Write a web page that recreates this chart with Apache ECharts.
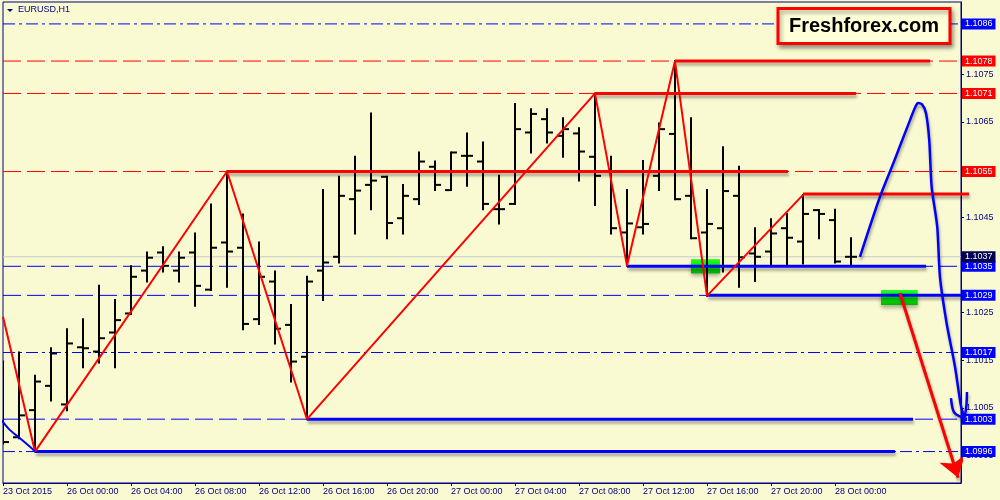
<!DOCTYPE html>
<html><head><meta charset="utf-8">
<script src="https://cdn.jsdelivr.net/npm/echarts@6/dist/echarts.min.js"></script>
<style>html,body{margin:0;padding:0;background:#FAFAD2}#c{width:1000px;height:500px}</style>
</head><body><div id="c"></div>
<script>
// EURUSD H1 bars, index 0 = 23 Oct 2015 20:00
const opens = [1.10120,1.09988,1.10045,1.10096,1.10057,1.10177,1.10168,1.10208,1.10248,1.10338,1.10376,1.10338,1.10376,1.10298,1.10397,1.10386,1.10236,1.10315,1.10224,1.10157,1.10338,1.10367,1.10488,1.10518,1.10535,1.10448,1.10488,1.10556,1.10507,1.10579,1.10567,1.10467,1.10478,1.10628,1.10656,1.10621,1.10626,1.10577,1.10547,1.10418,1.10429,1.10537,1.10625,1.10495,1.10418,1.10427,1.10495,1.10374,1.10378,1.10427,1.10399,1.10465,1.10444,1.10367];
const highs = [1.10147,1.10166,1.10117,1.10175,1.10215,1.10236,1.10306,1.10276,1.10347,1.10376,1.10387,1.10376,1.10416,1.10477,1.10546,1.10456,1.10397,1.10336,1.10266,1.10325,1.10507,1.10535,1.10577,1.10668,1.10535,1.10518,1.10586,1.10567,1.10586,1.10626,1.10607,1.10537,1.10688,1.10677,1.10677,1.10658,1.10637,1.10710,1.10577,1.10507,1.10568,1.10647,1.10778,1.10658,1.10507,1.10597,1.10556,1.10427,1.10446,1.10457,1.10497,1.10465,1.10466,1.10406];
const lows = [1.09975,1.09986,1.09958,1.10065,1.10045,1.10135,1.10145,1.10135,1.10247,1.10315,1.10336,1.10315,1.10264,1.10297,1.10304,1.10215,1.10226,1.10185,1.10105,1.10026,1.10276,1.10355,1.10416,1.10467,1.10406,1.10416,1.10478,1.10507,1.10507,1.10516,1.10467,1.10437,1.10478,1.10586,1.10607,1.10577,1.10527,1.10476,1.10416,1.10348,1.10416,1.10507,1.10488,1.10406,1.10285,1.10336,1.10304,1.10316,1.10348,1.10348,1.10353,1.10406,1.10355,1.10348];
const closes = [1.09978,1.10034,1.10105,1.10164,1.10185,1.10175,1.10196,1.10234,1.10325,1.10365,1.10348,1.10365,1.10306,1.10386,1.10378,1.10226,1.10325,1.10216,1.10147,1.10315,1.10355,1.10495,1.10506,1.10527,1.10438,1.10495,1.10567,1.10518,1.10586,1.10579,1.10478,1.10467,1.10635,1.10667,1.10628,1.10635,1.10588,1.10537,1.10427,1.10437,1.10436,1.10635,1.10488,1.10406,1.10436,1.10505,1.10366,1.10367,1.10416,1.10407,1.10457,1.10457,1.10357,1.10367];

const tickIndex = [0,4,8,12,16,20,24,28,32,36,40,44,48,52];
const tickLabels = ['23 Oct 2015','26 Oct 00:00','26 Oct 04:00','26 Oct 08:00','26 Oct 12:00','26 Oct 16:00','26 Oct 20:00','27 Oct 00:00','27 Oct 04:00','27 Oct 08:00','27 Oct 12:00','27 Oct 16:00','27 Oct 20:00','28 Oct 00:00'];
const priceTicks = [1.0995,1.1005,1.1015,1.1025,1.1035,1.1045,1.1055,1.1065,1.1075,1.1085];

// levels
const redDashLevels = [1.10778,1.10710,1.10546];
const blueDashLevels = [1.10347,1.10286,1.10026];
const blueDashDotLevels = [1.10856,1.10166,1.09958];
const bidPrice = 1.10367;

// zigzag pivots [barIndex, price]
const zigzag = [[0,1.10241],[2,1.09958],[14,1.10546],[19,1.10026],[37,1.10710],[39,1.10348],[42,1.10778],[44,1.10285],[50,1.10497]];
// trend segments [fromIndex, toIndex, price]
const redSegments = [[14,49.06,1.10546],[37,53.31,1.10710],[42,57.94,1.10778],[50,60.38,1.10499]];
const blueSegments = [[39,57.69,1.10347],[44,59.875,1.10286],[19,56.88,1.10026],[2,55.75,1.09958]];
// hand-drawn blue forecast path [index, price]
const blueForecast = [[53.56,1.10367],[54.81,1.10493],[55.64,1.10563],[56.69,1.10654],[57.14,1.10689],[57.44,1.10687],[57.69,1.10668],[57.89,1.10612],[58.04,1.10514],[58.39,1.10430],[58.56,1.10325],[58.98,1.10227],[59.5,1.10136],[59.86,1.10056],[60.06,1.10031]];
const blueForecastHead = [[59.25,1.10070],[59.45,1.10040],[60.06,1.10031],[60.25,1.10083]];
const blueLeft = [[-0.3,1.10031],[0.02,1.10019],[0.44,1.10003],[1.06,1.09986],[1.69,1.09968],[2,1.09958]];
// red arrow [from, to]
const redArrow = [[56.06,1.10291],[59.7,1.09903]];
// green zones [fromIndex, toIndex, topPrice, bottomPrice]
const greenZones = [[43.0,44.81,1.10362,1.10332],[54.88,57.17,1.10297,1.10266]];

const xMin = 0, xMax = 59.875;
const yMin = 1.09892, yMax = 1.10902;

const NAVY = '#000080';
const FONT = 'Liberation Sans';
const shadow = {shadowColor:'rgba(0,0,0,0.35)', shadowBlur:3, shadowOffsetX:1, shadowOffsetY:3};

const chart = echarts.init(document.getElementById('c'));
const series = [];

// polyline drawn through the axes' scales, not clipped to the grid
function pathSeries(points, stroke, width, z, smooth, withShadow) {
  return {type:'custom', z:z, silent:true, clip:false, data:[points[0]], encode:{x:0, y:1},
    renderItem:(p, api) => ({type:'polyline',
      shape:{points:points.map(pt => api.coord(pt)), smooth:smooth || 0},
      style:Object.assign({stroke:stroke, lineWidth:width, fill:null, lineJoin:'round'}, withShadow ? shadow : {})})};
}

// bid line
series.push({type:'line', z:1, symbol:'none', silent:true, data:[[xMin,bidPrice],[xMax,bidPrice]], lineStyle:{color:'#c8c8c8', width:1}});
redDashLevels.forEach(v => series.push({type:'line', z:1, symbol:'none', silent:true, data:[[xMin,v],[xMax,v]], lineStyle:{color:'#ff0000', width:1, type:[18,6]}}));
blueDashLevels.forEach(v => series.push({type:'line', z:1, symbol:'none', silent:true, data:[[xMin,v],[xMax,v]], lineStyle:{color:'#0000ff', width:1, type:[18,6]}}));
blueDashDotLevels.forEach(v => series.push({type:'line', z:1, symbol:'none', silent:true, data:[[xMin,v],[xMax,v]], lineStyle:{color:'#0000ff', width:1, type:[12,4,3,4]}}));

// green zones
series.push({type:'custom', z:2, silent:true, data:greenZones, encode:{x:[0,1], y:[2,3]},
  renderItem:(p, api) => {
    const a = api.coord([api.value(0), api.value(2)]);
    const b = api.coord([api.value(1), api.value(3)]);
    return {type:'rect', shape:{x:a[0], y:a[1], width:b[0]-a[0], height:b[1]-a[1]},
      style:{fill:new echarts.graphic.LinearGradient(0,0,0,1,[{offset:0,color:'#22ff22'},{offset:0.5,color:'#00ee00'},{offset:1,color:'#00b400'}]), shadowColor:'rgba(0,0,0,0.3)', shadowBlur:4, shadowOffsetY:3}};
  }});

// OHLC bars
series.push({type:'custom', z:3, clip:true, silent:true,
  data: opens.map((o,i) => [i, o, highs[i], lows[i], closes[i]]),
  encode:{x:0, y:[1,2,3,4]},
  renderItem:(p, api) => {
    const i = api.value(0);
    const o = api.coord([i, api.value(1)]);
    const h = api.coord([i, api.value(2)]);
    const l = api.coord([i, api.value(3)]);
    const c = api.coord([i, api.value(4)]);
    const x = Math.round(h[0]);
    const st = {stroke:'#000', lineWidth:2};
    return {type:'group', children:[
      {type:'line', shape:{x1:x, y1:h[1]-1, x2:x, y2:l[1]+1}, style:st},
      {type:'line', shape:{x1:x-6, y1:o[1], x2:x, y2:o[1]}, style:st},
      {type:'line', shape:{x1:x, y1:c[1], x2:x+6, y2:c[1]}, style:st}
    ]};
  }});

// segments
redSegments.forEach(s => series.push(pathSeries([[s[0],s[2]],[s[1],s[2]]], '#ff0000', 3, 4, 0, true)));
blueSegments.forEach(s => series.push(pathSeries([[s[0],s[2]],[s[1],s[2]]], '#0000ff', 3, 4, 0, true)));

// zigzag
series.push({type:'line', z:5, symbol:'none', silent:true, data:zigzag, lineStyle:{color:'#ff0000', width:2}});
// left blue line
series.push({type:'line', z:5, symbol:'none', silent:true, clip:true, smooth:0.3, data:blueLeft, lineStyle:{color:'#0000ff', width:2}});
// blue forecast
series.push(pathSeries(blueForecast, '#0000ff', 2.5, 5, 0.25, true));
series.push(pathSeries(blueForecastHead, '#0000ff', 2.5, 5, 0.3, true));
// red arrow
series.push({type:'lines', z:6, coordinateSystem:'cartesian2d', silent:true, symbol:['none','arrow'], symbolSize:[1,20],
  data:[{coords:redArrow}], lineStyle:Object.assign({color:'#ff0000', width:3, opacity:1}, shadow)});

const inSet = (arr, v) => arr.some(a => Math.abs(a - v) < 1e-7);

chart.setOption({
  animation:false,
  backgroundColor:'#FAFAD2',
  grid:{left:3, right:39, top:2, bottom:17, show:true, borderColor:NAVY, borderWidth:1, backgroundColor:'transparent'},
  xAxis:{type:'value', min:xMin, max:xMax, position:'bottom',
    axisLine:{show:true, onZero:false, lineStyle:{color:NAVY, width:1}},
    axisTick:{show:true, customValues:tickIndex, length:3, lineStyle:{color:NAVY}},
    axisLabel:{customValues:tickIndex, formatter:(v) => tickLabels[tickIndex.indexOf(Math.round(v))] || '', align:'left', color:NAVY, fontSize:9, fontFamily:FONT, margin:4},
    splitLine:{show:false}},
  yAxis:[
    {type:'value', min:yMin, max:yMax, position:'right',
      axisLine:{show:true, onZero:false, lineStyle:{color:NAVY, width:1}},
      axisTick:{show:true, customValues:priceTicks, length:3, lineStyle:{color:NAVY}},
      axisLabel:{customValues:priceTicks, formatter:(v) => v.toFixed(4), color:NAVY, fontSize:9, fontFamily:FONT, margin:5},
      splitLine:{show:false}},
    {type:'value', min:yMin, max:yMax, position:'right', z:10,
      axisLine:{show:false}, axisTick:{show:false}, splitLine:{show:false},
      axisLabel:{customValues:[].concat(blueDashDotLevels, blueDashLevels, redDashLevels, [bidPrice]),
        margin:1,
        formatter:(v) => {
          const t = v.toFixed(4);
          if (inSet(redDashLevels, v)) return '{r|' + t + '}';
          if (Math.abs(v - bidPrice) < 1e-7) return '{k|' + t + '}';
          return '{b|' + t + '}';
        },
        rich:{
          r:{backgroundColor:'#ff0000', color:'#fff', fontSize:9, fontFamily:FONT, padding:[1,3,1,3], lineHeight:11},
          b:{backgroundColor:'#0000ff', color:'#fff', fontSize:9, fontFamily:FONT, padding:[1,3,1,3], lineHeight:11},
          k:{backgroundColor:'#000050', color:'#fff', fontSize:9, fontFamily:FONT, padding:[1,3,1,3], lineHeight:11}
        }}}
  ],
  series: series,
  graphic:[
    {type:'polygon', shape:{points:[[7,9],[13,9],[10,12]]}, style:{fill:NAVY}, z:100},
    {type:'text', x:18, y:5, style:{text:'EURUSD,H1', fill:NAVY, font:'9px "Liberation Sans"'}, z:100},
    {type:'rect', shape:{x:778, y:8.5, width:172, height:35}, style:{fill:'#FFFFD8', stroke:'#ff0000', lineWidth:3, shadowColor:'rgba(0,0,0,0.35)', shadowBlur:4, shadowOffsetX:2, shadowOffsetY:3}, z:100},
    {type:'text', x:864, y:26.5, style:{text:'Freshforex.com', fill:'#000', font:'bold 20px "Liberation Sans"', align:'center', verticalAlign:'middle'}, z:101}
  ]
});
</script></body></html>
